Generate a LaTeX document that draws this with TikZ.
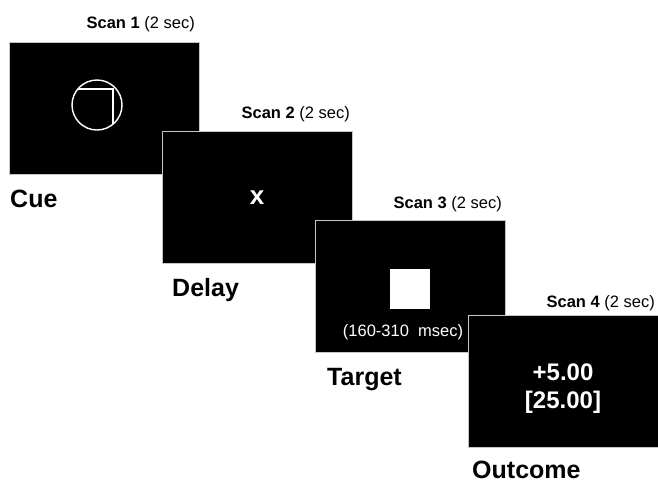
\documentclass[tikz,border=0pt]{standalone}
\usepackage{fontspec}
\setmainfont{Liberation Sans}
\usepackage{xcolor}
\usepackage{tikz}
\usetikzlibrary{positioning}

\begin{document}
\begin{tikzpicture}[
    x=1pt, y=-1pt,
    screen/.style={rectangle, draw=gray!45, line width=1pt, fill=black, minimum width=190pt, minimum height=132pt, inner sep=0pt},
    scanlabel/.style={anchor=base east, inner sep=0pt, font=\fontsize{16.5}{18}\selectfont},
    condlabel/.style={anchor=base west, inner sep=0pt, font=\fontsize{25}{28}\selectfont\bfseries},
    stimtext/.style={text=white, inner sep=0pt, font=\fontsize{24}{28}\selectfont\bfseries},
    stim/.style={white, line width=1.4pt}
]
\useasboundingbox (0,0) rectangle (658,483);

% Screens
\node[screen] (cue_screen) at (104.5,108) {};
\node[screen] (delay_screen) at (257,197) {};
\node[screen] (target_screen) at (410,286) {};
\node[screen] (outcome_screen) at (563,381.5) {};

% Scan labels
\node[scanlabel] (scan_one) at (195,28) {\textbf{Scan 1} (2 sec)};
\node[scanlabel] (scan_two) at (350,118) {\textbf{Scan 2} (2 sec)};
\node[scanlabel] (scan_three) at (502,208) {\textbf{Scan 3} (2 sec)};
\node[scanlabel] (scan_four) at (655,307) {\textbf{Scan 4} (2 sec)};

% Condition labels
\node[condlabel] (cue_label) at (10,207) {Cue};
\node[condlabel] (delay_label) at (172,296) {Delay};
\node[condlabel] (target_label) at (327,385) {Target};
\node[condlabel] (outcome_label) at (472,478) {Outcome};

% Cue stimulus
\draw[stim] (97,105) circle (25pt);
\begin{scope}
\clip (97,105) circle (25pt);
\draw[stim] (60,89) -- (113,89) -- (113,140);
\end{scope}

% Delay fixation
\node[stimtext, font=\fontsize{26}{28}\selectfont\bfseries] (fixation) at (257,198) {x};

% Target
\node[rectangle, fill=white, minimum size=40pt, inner sep=0pt] (target_square) at (410,289) {};
\node[text=white, inner sep=0pt, font=\fontsize{16.5}{18}\selectfont] (target_time) at (403,332) {(160-310~~msec)};

% Outcome
\node[stimtext] (gain) at (563,372) {+5.00};
\node[stimtext] (total) at (563,402) {[25.00]};

\end{tikzpicture}
\end{document}
